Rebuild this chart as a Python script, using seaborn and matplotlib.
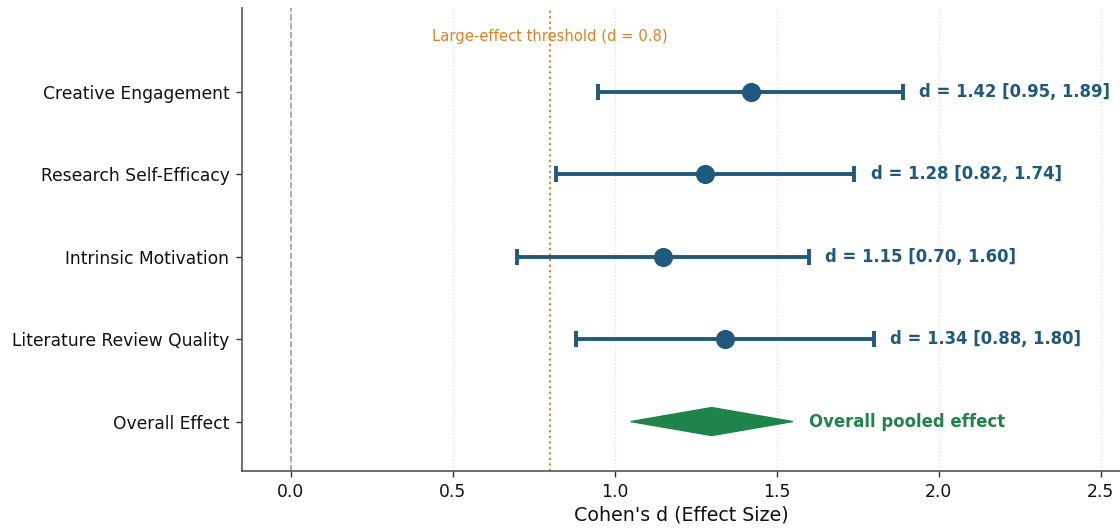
import matplotlib
matplotlib.use("Agg")
import matplotlib.pyplot as plt
import seaborn as sns
import pandas as pd
import numpy as np

outcomes = ["Creative Engagement", "Research Self-Efficacy", "Intrinsic Motivation", "Literature Review Quality"]
effects = [1.42, 1.28, 1.15, 1.34]
ci_low = [0.95, 0.82, 0.70, 0.88]
ci_high = [1.89, 1.74, 1.60, 1.80]
overall_label = "Overall Effect"
overall_effect = 1.30
overall_low = 1.05
overall_high = 1.55
threshold = 0.8

BLUE = "#1f5a7e"
GREEN = "#1e8449"
ORANGE = "#e67e22"

sns.set_style("white")
plt.rcParams["font.family"] = ["DejaVu Sans"]
fig = plt.figure(figsize=(11.2, 5.31), dpi=100)
ax = fig.add_axes([0.216, 0.113, 0.784, 0.872])

n = len(outcomes)
ypos = np.arange(n, 0, -1)  # 4..1 ; overall at 0
df = pd.DataFrame({"outcome": outcomes, "d": effects, "lo": ci_low, "hi": ci_high, "y": ypos})

ax.axvline(0, color="#a0a0a0", linestyle="--", linewidth=1.2, zorder=1)
ax.axvline(threshold, color=ORANGE, linestyle=":", linewidth=1.5, zorder=1)

ax.errorbar(df["d"], df["y"], xerr=[df["d"] - df["lo"], df["hi"] - df["d"]],
            fmt="none", ecolor=BLUE, elinewidth=2.8, capsize=5.5, capthick=2.8, zorder=2)
sns.scatterplot(data=df, x="d", y="y", color=BLUE, s=190, edgecolor=BLUE, linewidth=0, ax=ax, zorder=3)

for _, r in df.iterrows():
    ax.text(r["hi"] + 0.05, r["y"], f"d = {r['d']:.2f} [{r['lo']:.2f}, {r['hi']:.2f}]",
            va="center", ha="left", fontsize=11.9, fontweight="bold", color=BLUE)

h = 0.17
diamond_x = [overall_low, overall_effect, overall_high, overall_effect]
diamond_y = [0, h, 0, -h]
ax.fill(diamond_x, diamond_y, color=GREEN, zorder=3)
ax.text(overall_high + 0.05, 0, "Overall pooled effect", va="center", ha="left",
        fontsize=11.9, fontweight="bold", color=GREEN)

ax.text(threshold, 4.67, f"Large-effect threshold (d = {threshold})", ha="center", va="center",
        fontsize=10.6, color=ORANGE)

ax.set_yticks(list(ypos) + [0])
ax.set_yticklabels(outcomes + [overall_label], fontsize=12.3)
ax.set_xticks([0.0, 0.5, 1.0, 1.5, 2.0, 2.5])
ax.set_xticklabels(["0.0", "0.5", "1.0", "1.5", "2.0", "2.5"], fontsize=12.3)
ax.set_xlim(-0.15, 2.56)
ax.set_ylim(-0.6, 5.02)
ax.set_xlabel("Cohen's d (Effect Size)", fontsize=13.7, labelpad=3)
ax.set_ylabel("")

ax.grid(axis="x", linestyle=":", color="#e3e3e3", linewidth=1)
ax.set_axisbelow(True)
ax.tick_params(axis="both", which="both", length=4, width=1, color="#333333", left=True, bottom=True,
               labelcolor="#111111", pad=5)
for s in ["top", "right"]:
    ax.spines[s].set_visible(False)
for s in ["left", "bottom"]:
    ax.spines[s].set_color("#555555")
    ax.spines[s].set_linewidth(1.2)
ax.xaxis.label.set_color("#111111")

fig.savefig("out.png", dpi=100)
